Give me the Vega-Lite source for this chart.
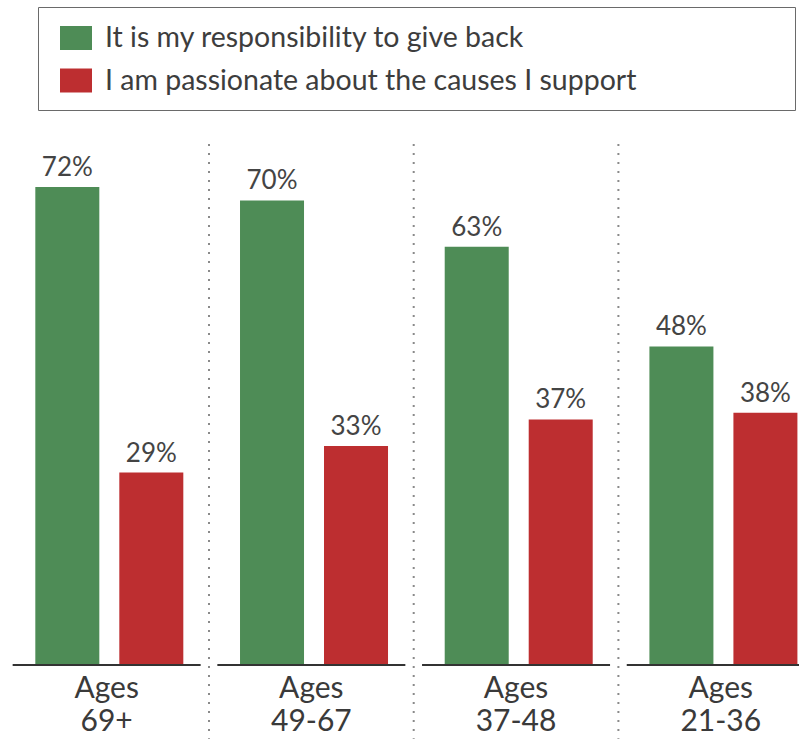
{
  "$schema": "https://vega.github.io/schema/vega-lite/v6.json",
  "autosize": {"type": "none"},
  "width": 799,
  "height": 531,
  "padding": {"left": 0, "top": 134, "right": 0, "bottom": 74},
  "background": "white",
  "config": {
    "view": {"stroke": null},
    "font": "Lato"
  },
  "datasets": {
    "bars": [
      {"group": "69+", "series": "It is my responsibility to give back", "value": 0.72},
      {"group": "69+", "series": "I am passionate about the causes I support", "value": 0.29},
      {"group": "49-67", "series": "It is my responsibility to give back", "value": 0.70},
      {"group": "49-67", "series": "I am passionate about the causes I support", "value": 0.33},
      {"group": "37-48", "series": "It is my responsibility to give back", "value": 0.63},
      {"group": "37-48", "series": "I am passionate about the causes I support", "value": 0.37},
      {"group": "21-36", "series": "It is my responsibility to give back", "value": 0.48},
      {"group": "21-36", "series": "I am passionate about the causes I support", "value": 0.38}
    ],
    "groups": [
      {"group": "69+"},
      {"group": "49-67"},
      {"group": "37-48"},
      {"group": "21-36"}
    ],
    "separators": [
      {"group": "49-67"},
      {"group": "37-48"},
      {"group": "21-36"}
    ]
  },
  "layer": [
    {
      "data": {"name": "bars"},
      "mark": {"type": "bar"},
      "encoding": {
        "x": {
          "field": "group",
          "type": "nominal",
          "sort": ["69+", "49-67", "37-48", "21-36"],
          "scale": {"domain": ["69+", "49-67", "37-48", "21-36"], "range": [4.3, 823.1], "paddingInner": 0, "paddingOuter": 0},
          "axis": {
            "title": null,
            "domain": false,
            "ticks": false,
            "grid": false,
            "labelAngle": 0,
            "labelFont": "Lato",
            "labelFontSize": 30,
            "labelColor": "#3a3a3a",
            "labelLineHeight": 33,
            "labelPadding": 8,
            "labelBaseline": "top",
            "labelExpr": "['Ages', datum.value]"
          }
        },
        "xOffset": {
          "field": "series",
          "type": "nominal",
          "sort": ["It is my responsibility to give back", "I am passionate about the causes I support"],
          "scale": {"paddingInner": 0.238, "paddingOuter": 0.3375, "align": 0.547}
        },
        "y": {
          "field": "value",
          "type": "quantitative",
          "scale": {"domain": [0, 0.8], "nice": false},
          "axis": null
        },
        "color": {
          "field": "series",
          "type": "nominal",
          "sort": ["It is my responsibility to give back", "I am passionate about the causes I support"],
          "scale": {"domain": ["It is my responsibility to give back", "I am passionate about the causes I support"], "range": ["#4e8c56", "#bd2e30"]},
          "legend": {
            "orient": "none",
            "legendX": 38,
            "legendY": -127,
            "direction": "vertical",
            "title": "\u00a0",
            "titleOrient": "right",
            "titleFontSize": 1,
            "titlePadding": 144,
            "padding": 15,
            "symbolOffset": 7,
            "strokeColor": "#6a6a6a",
            "fillColor": "white",
            "symbolType": "M-1,-0.75H1V0.75H-1Z",
            "symbolSize": 1024,
            "symbolStrokeWidth": 0,
            "symbolOpacity": 1,
            "labelFont": "Lato",
            "labelFontSize": 28.5,
            "labelColor": "#3d3d3d",
            "labelOffset": 13,
            "labelLimit": 0,
            "rowPadding": 11.5
          }
        }
      }
    },
    {
      "data": {"name": "bars"},
      "mark": {"type": "text", "baseline": "alphabetic", "dy": -11, "font": "Lato", "fontSize": 26, "color": "#444444"},
      "encoding": {
        "x": {"field": "group", "type": "nominal", "sort": ["69+", "49-67", "37-48", "21-36"]},
        "xOffset": {"field": "series", "type": "nominal", "sort": ["It is my responsibility to give back", "I am passionate about the causes I support"]},
        "y": {"field": "value", "type": "quantitative"},
        "text": {"field": "value", "type": "quantitative", "format": ".0%"}
      }
    },
    {
      "data": {"name": "groups"},
      "mark": {"type": "tick", "orient": "horizontal", "size": 188, "thickness": 2, "color": "#333333", "opacity": 1},
      "encoding": {
        "x": {"field": "group", "type": "nominal", "sort": ["69+", "49-67", "37-48", "21-36"]},
        "y": {"datum": 0, "type": "quantitative"}
      }
    },
    {
      "data": {"name": "separators"},
      "mark": {"type": "rule", "color": "#8a8a8a", "strokeWidth": 2, "strokeDash": [2, 7]},
      "encoding": {
        "x": {"field": "group", "type": "nominal", "bandPosition": 0, "sort": ["69+", "49-67", "37-48", "21-36"]},
        "y": {"datum": 0.785, "type": "quantitative"},
        "y2": {"datum": -0.111}
      }
    }
  ]
}
